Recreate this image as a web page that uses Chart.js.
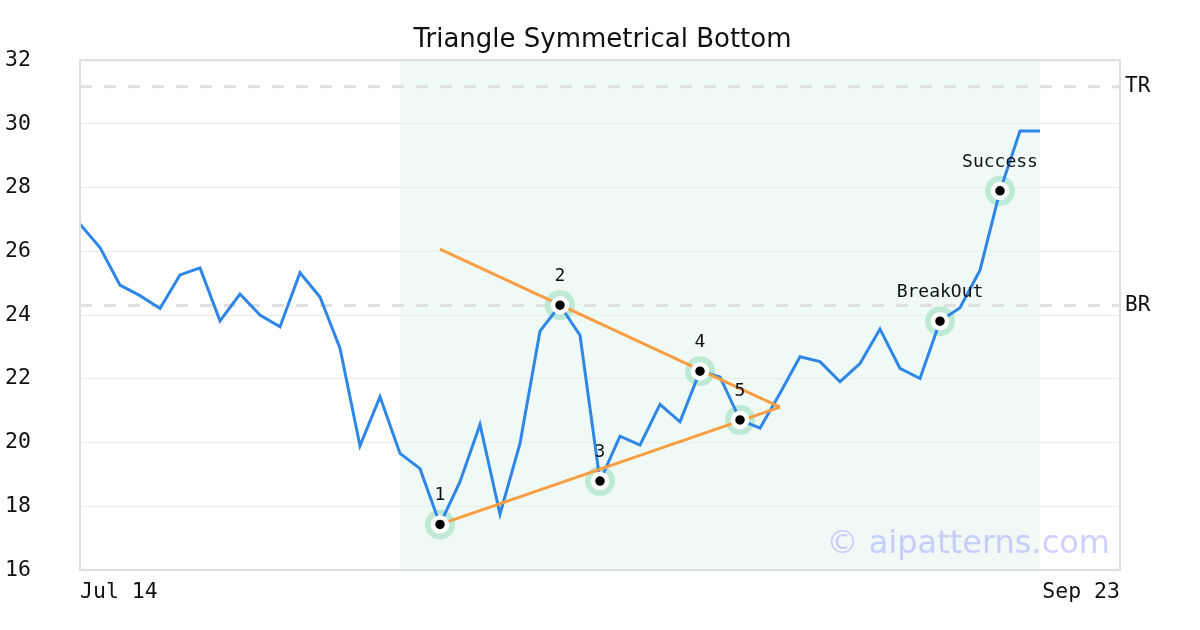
<!DOCTYPE html>
<html>
<head>
<meta charset="utf-8">
<script src="https://cdn.jsdelivr.net/npm/chart.js@4/dist/chart.umd.min.js"></script>
<style>
  html, body { margin: 0; padding: 0; background: #fff; }
  #wrap { width: 1200px; height: 630px; }
</style>
</head>
<body>
<div id="wrap"><canvas id="c" width="1200" height="630"></canvas></div>
<script>
// Closing prices, one per trading session from Jul 14 onwards
const prices = [
  26.85, 26.12, 24.94, 24.61, 24.21, 25.26, 25.48, 23.82, 24.66, 24.00,
  23.63, 25.33, 24.57, 22.96, 19.90, 21.44, 19.66, 19.18, 17.43, 18.77,
  20.57, 17.75, 19.97, 23.50, 24.31, 23.37, 18.79, 20.20, 19.92, 21.20,
  20.65, 22.24, 22.06, 20.71, 20.45, 21.55, 22.69, 22.54, 21.91, 22.48,
  23.56, 22.33, 22.01, 23.81, 24.23, 25.41, 27.90, 29.78, 29.78
];
const axisEnd = 52;
const tickIdx = [0, 52];
const tickLabels = ['Jul 14', 'Sep 23'];

// pattern window (shaded)
const patternStart = 16;
const patternEnd = 48;

// key points
const markIdx = [18, 24, 26, 31, 33, 43, 46];
const markLabels = ['1', '2', '3', '4', '5', 'BreakOut', 'Success'];

// triangle trendlines
const upperLine = [[18, 26.07], [35, 21.11]];
const lowerLine = [[18, 17.43], [35, 21.11]];

// horizontal levels
const levelNames = ['TR', 'BR'];
const levelValues = [31.17, 24.30];

const MONO = '"DejaVu Sans Mono", monospace';
const SANS = '"DejaVu Sans", sans-serif';

const decor = {
  id: 'decor',
  beforeDatasetsDraw(chart) {
    const { ctx, chartArea: a, scales: { x } } = chart;
    ctx.save();
    ctx.fillStyle = 'rgba(214,238,228,0.38)';
    const x0 = x.getPixelForValue(patternStart), x1 = x.getPixelForValue(patternEnd);
    ctx.fillRect(x0, a.top, x1 - x0, a.bottom - a.top);
    ctx.restore();
  },
  afterDatasetsDraw(chart) {
    const { ctx, chartArea: a, scales: { x, y } } = chart;
    ctx.save();
    // frame
    ctx.strokeStyle = '#dedede';
    ctx.lineWidth = 2;
    ctx.strokeRect(a.left, a.top, a.right - a.left, a.bottom - a.top);
    // level names
    ctx.fillStyle = '#111';
    ctx.font = '21px ' + MONO;
    ctx.textAlign = 'left';
    ctx.textBaseline = 'middle';
    levelNames.forEach((n, i) => ctx.fillText(n, a.right + 5, y.getPixelForValue(levelValues[i])));
    // point labels
    ctx.font = '18px ' + MONO;
    ctx.textAlign = 'center';
    markIdx.forEach((idx, i) => {
      ctx.fillText(markLabels[i], x.getPixelForValue(idx), y.getPixelForValue(prices[idx]) - 29);
    });
    // watermark
    ctx.font = '32px ' + SANS;
    ctx.fillStyle = 'rgba(150,150,255,0.45)';
    ctx.textAlign = 'right';
    ctx.textBaseline = 'alphabetic';
    ctx.fillText('© aipatterns.com', a.right - 10, a.bottom - 17);
    ctx.restore();
  }
};

const marks = markIdx.map(i => ({ x: i, y: prices[i] }));

new Chart(document.getElementById('c'), {
  type: 'line',
  data: {
    datasets: [
      {
        data: marks, showLine: false, pointRadius: 7, pointBorderWidth: 4.5,
        pointBackgroundColor: '#000', pointBorderColor: '#fff', order: 0
      },
      {
        data: marks, showLine: false, pointRadius: 15, pointBorderWidth: 0,
        pointBackgroundColor: 'rgba(170,226,200,0.7)', order: 3
      },
      {
        data: prices.map((v, i) => ({ x: i, y: v })),
        borderColor: '#2e86e6', borderWidth: 3, pointRadius: 0, tension: 0, order: 2
      },
      {
        data: upperLine.map(p => ({ x: p[0], y: p[1] })),
        borderColor: '#f99d42', borderWidth: 3, pointRadius: 0, order: 1
      },
      {
        data: lowerLine.map(p => ({ x: p[0], y: p[1] })),
        borderColor: '#f99d42', borderWidth: 3, pointRadius: 0, order: 1
      },
      ...levelValues.map(v => ({
        data: [{ x: 0, y: v }, { x: axisEnd, y: v }],
        borderColor: '#e0e0e0', borderWidth: 3, borderDash: [12, 12], pointRadius: 0, order: 4
      }))
    ]
  },
  plugins: [decor],
  options: {
    responsive: false,
    animation: false,
    layout: { padding: { left: 5, right: 0, top: 0, bottom: 0 } },
    plugins: {
      legend: { display: false },
      tooltip: { enabled: false },
      title: {
        display: true, text: 'Triangle Symmetrical Bottom', color: '#111',
        font: { family: SANS, size: 26, weight: 'normal' },
        padding: { top: 25, bottom: 4 }
      }
    },
    scales: {
      x: {
        type: 'linear', min: 0, max: axisEnd,
        afterBuildTicks: s => { s.ticks = tickIdx.map(v => ({ value: v })); },
        afterFit: s => { s.height = 60; },
        grid: { display: false },
        border: { display: false },
        ticks: {
          align: 'inner', maxRotation: 0, color: '#111', padding: 2,
          font: { family: MONO, size: 21.5 },
          callback: v => tickLabels[tickIdx.indexOf(v)]
        }
      },
      y: {
        min: 16, max: 32,
        afterFit: s => { s.width = 75; },
        grid: { color: '#ececec', lineWidth: 1, drawTicks: false },
        border: { display: false },
        ticks: {
          stepSize: 2, crossAlign: 'far', color: '#111', padding: 0,
          font: { family: MONO, size: 21.5 }
        }
      },
      yRight: {
        position: 'right', min: 16, max: 32,
        afterFit: s => { s.width = 80; },
        grid: { display: false },
        border: { display: false },
        ticks: { display: false }
      }
    }
  }
});
</script>
</body>
</html>
